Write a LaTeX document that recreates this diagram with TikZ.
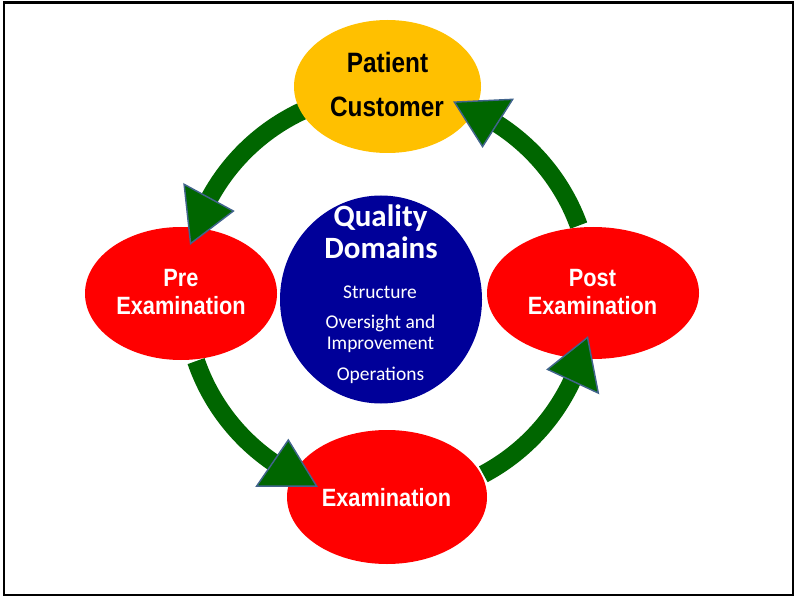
\documentclass[tikz,border=0pt]{standalone}
\usepackage{fontspec}
\usetikzlibrary{shapes.geometric,calc}
\newfontfamily\armn[FakeStretch=0.87]{Liberation Sans Bold}
\newfontfamily\calfont{Carlito}
\definecolor{pyellow}{RGB}{255,192,0}
\definecolor{pred}{RGB}{255,0,0}
\definecolor{pnavy}{RGB}{0,0,153}
\definecolor{pgreen}{RGB}{0,102,0}
\definecolor{pedge}{RGB}{65,100,140}
\newcommand\cyclepts[4]{%
  \coordinate (#1s) at ($(c)+(#2:203)$);
  \coordinate (#1l) at ($(c)+(#3:176)$);
  \coordinate (#1r) at ($(c)+(#3:232)$);
  \coordinate (#1t) at ($(c)+(#4:204)$);
}
\begin{document}
\begin{tikzpicture}[x=0.75pt,y=0.75pt,
  blob/.style={ellipse, inner sep=0pt, draw=none},
  lblA/.style={anchor=base, inner sep=0pt, text=white, font=\armn\fontsize{18.75}{22}\selectfont},
  lblP/.style={anchor=base, inner sep=0pt, text=black, font=\armn\fontsize{21}{25}\selectfont},
  lblQ/.style={anchor=base, inner sep=0pt, text=white, font=\calfont\bfseries\fontsize{23.25}{27}\selectfont},
  lblS/.style={anchor=base, inner sep=0pt, text=white, font=\calfont\fontsize{14.6}{17}\selectfont},
  body/.style={draw=pgreen, line width=13.5pt},
  head/.style={fill=pgreen, draw=pedge, line width=1.1pt, line join=miter}
]
\useasboundingbox (0,0) rectangle (795,597);
\draw[line width=2pt] (4,2) rectangle (793,594.8);

\coordinate (c) at (388,302);
\cyclepts{a}{115}{151.5}{165.4}
\cyclepts{b}{199}{235.5}{249.5}
\cyclepts{d}{298}{335}{348}
\cyclepts{e}{20}{57.5}{71}

% arrow bodies
\draw[body] (as) arc[start angle=115, end angle=152.5, radius=203];
\draw[body] (bs) arc[start angle=199, end angle=236.5, radius=203];
\draw[body] (ds) arc[start angle=298, end angle=336, radius=203];
\draw[body] (es) arc[start angle=20, end angle=58.5, radius=203];

% ellipses
\node[blob, fill=pyellow, minimum width=140.25pt, minimum height=99.75pt] (pat) at (387.5,510.5) {};
\node[blob, fill=pred, minimum width=144pt, minimum height=99.75pt] (pre) at (181,303.5) {};
\node[blob, fill=pred, minimum width=159pt, minimum height=99pt] (post) at (593,304) {};
\node[blob, fill=pred, minimum width=150pt, minimum height=100.5pt] (exam) at (387,100) {};
\node[blob, fill=pnavy, minimum width=151.5pt, minimum height=156pt] (qd) at (381,297.5) {};

% arrow heads
\draw[head] (al) -- (at) -- (ar) -- cycle;
\draw[head] (bl) -- (bt) -- (br) -- cycle;
\draw[head] (dl) -- (dt) -- (dr) -- cycle;
\draw[head] (el) -- (et) -- (er) -- cycle;

% texts
\node[lblP] (patT1) at (387.5,524) {Patient};
\node[lblP] (patT2) at (387,480) {Customer};
\node[lblA] (preT1) at (181,311) {Pre};
\node[lblA] (preT2) at (181,283) {Examination};
\node[lblA] (postT1) at (592.5,311) {Post};
\node[lblA] (postT2) at (592.5,283) {Examination};
\node[lblA] (examT) at (386.5,91) {Examination};
\node[lblQ] (qdT1) at (380.5,370) {Quality};
\node[lblQ] (qdT2) at (381,339) {Domains};
\node[lblS] (qdS1) at (380,299) {Structure};
\node[lblS] (qdS2) at (380.5,269) {Oversight and};
\node[lblS] (qdS3) at (380.5,248) {Improvement};
\node[lblS] (qdS4) at (380.5,217) {Operations};
\end{tikzpicture}
\end{document}
